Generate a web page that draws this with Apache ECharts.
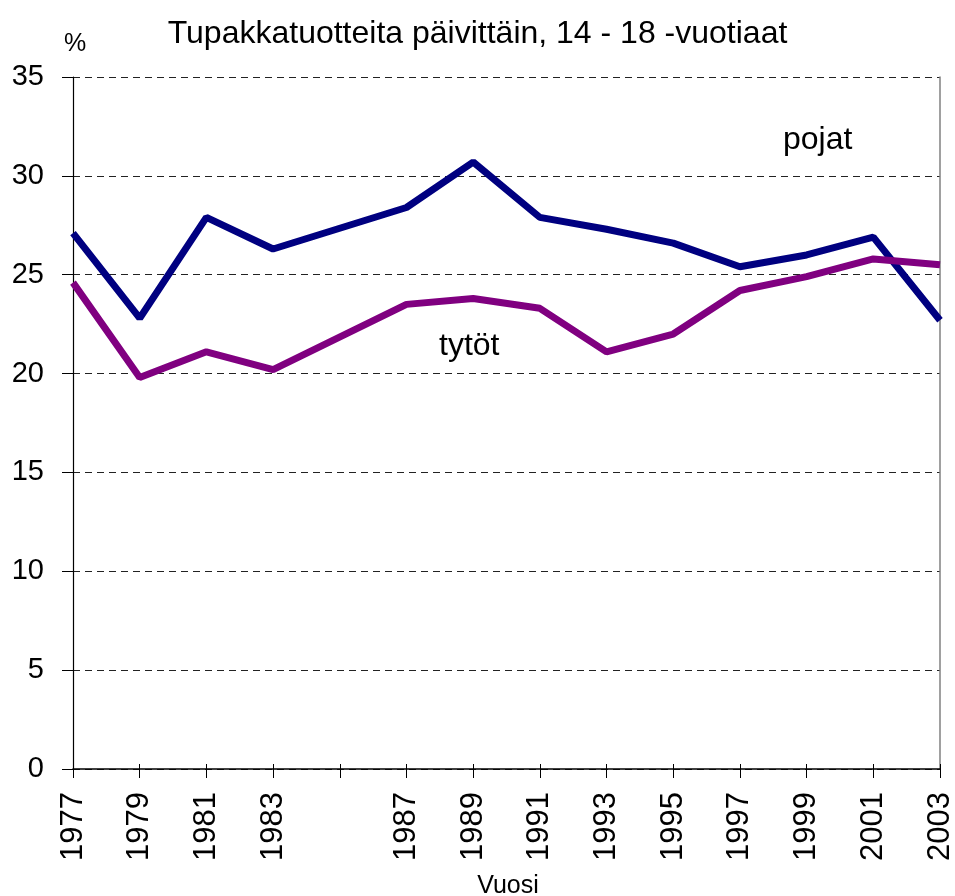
<!DOCTYPE html>
<html>
<head>
<meta charset="utf-8">
<script src="https://cdn.jsdelivr.net/npm/echarts@6/dist/echarts.min.js"></script>
<style>html,body{margin:0;padding:0;background:#fff}#c{width:955px;height:896px}</style>
</head>
<body>
<div id="c"></div>
<script>
const years = ['1977','1979','1981','1983','1985','1987','1989','1991','1993','1995','1997','1999','2001','2003'];
const yearLabels = ['1977','1979','1981','1983','','1987','1989','1991','1993','1995','1997','1999','2001','2003'];
const pojat = [27.1, 22.8, 27.9, 26.3, null, 28.4, 30.7, 27.9, 27.3, 26.6, 25.4, 26.0, 26.9, 22.7];
const tytot = [24.6, 19.8, 21.1, 20.2, null, 23.5, 23.8, 23.3, 21.1, 22.0, 24.2, 24.9, 25.8, 25.5];
const yTicks = [0, 5, 10, 15, 20, 25, 30, 35];

const chart = echarts.init(document.getElementById('c'));
const font = 'Liberation Sans, Arial, sans-serif';
chart.setOption({
  animation: false,
  backgroundColor: '#fff',
  title: {
    text: 'Tupakkatuotteita päivittäin, 14 - 18 -vuotiaat',
    left: 'center', top: 13,
    textStyle: {fontFamily: font, fontSize: 32, fontWeight: 'normal', color: '#000'}
  },
  grid: {left: 73, right: 15, top: 77, bottom: 127, outerBoundsMode: 'none', containLabel: false},
  xAxis: [{
    type: 'category', data: years, boundaryGap: false,
    axisLine: {lineStyle: {color: '#000', width: 1.5}},
    axisTick: {show: true, length: 9, interval: 0, lineStyle: {color: '#000'}},
    axisLabel: {
      interval: 0, rotate: 90, margin: 23, fontFamily: font, fontSize: 31, color: '#000',
      formatter: (v, i) => yearLabels[i]
    }
  }, {
    type: 'category', data: years, boundaryGap: false, position: 'bottom',
    axisLine: {show: false},
    axisTick: {show: true, inside: true, length: 5, interval: 0, lineStyle: {color: '#000'}},
    axisLabel: {show: false}
  }],
  yAxis: [{
    type: 'value', min: 0, max: 35, interval: 5,
    axisLine: {show: true, lineStyle: {color: '#000', width: 1.2}},
    axisTick: {show: true, length: 11, lineStyle: {color: '#000'}},
    axisLabel: {margin: 29, fontFamily: font, fontSize: 29, color: '#000',
      formatter: v => yTicks.includes(v) ? String(v) : ''},
    splitLine: {show: true, lineStyle: {color: '#222', type: [7, 5], width: 1}}
  }, {
    type: 'value', min: 0, max: 35, interval: 5, position: 'right',
    axisLine: {show: true, lineStyle: {color: '#808080', width: 1.5}},
    axisTick: {show: false}, axisLabel: {show: false}, splitLine: {show: false}
  }],
  series: [{
    name: 'pojat', type: 'line', data: pojat, connectNulls: true,
    symbol: 'none', lineStyle: {color: '#000080', width: 7}, itemStyle: {color: '#000080'}
  }, {
    name: 'tytöt', type: 'line', data: tytot, connectNulls: true,
    symbol: 'none', lineStyle: {color: '#800080', width: 7}, itemStyle: {color: '#800080'}
  }],
  graphic: [
    {type: 'text', left: 783, top: 124, style: {text: 'pojat', font: '32px ' + font, fill: '#000'}},
    {type: 'text', left: 439, top: 330, style: {text: 'tytöt', font: '32px ' + font, fill: '#000'}},
    {type: 'text', left: 64, top: 32, style: {text: '%', font: '25px ' + font, fill: '#000'}},
    {type: 'text', x: 508, y: 874, style: {text: 'Vuosi', font: '25px ' + font, fill: '#000', textAlign: 'center', textVerticalAlign: 'top'}}
  ]
});
</script>
</body>
</html>
